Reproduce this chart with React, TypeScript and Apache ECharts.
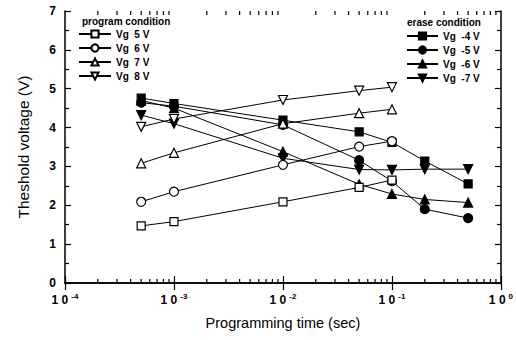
import React, { useEffect, useRef } from "react";
import * as echarts from "echarts";

const programTimes = [5e-4, 1e-3, 1e-2, 5e-2, 1e-1];
const eraseTimes = [5e-4, 1e-3, 1e-2, 5e-2, 1e-1, 2e-1, 5e-1];

const prog5 = [1.47, 1.58, 2.09, 2.46, 2.65];
const prog6 = [2.09, 2.35, 3.04, 3.51, 3.65];
const prog7 = [3.08, 3.35, 4.1, 4.37, 4.47];
const prog8 = [4.02, 4.22, 4.71, 4.95, 5.04];

const erase4 = [4.76, 4.62, 4.19, 3.89, 3.62, 3.14, 2.55];
const erase5 = [4.64, 4.55, 4.07, 3.16, 2.62, 1.9, 1.67];
const erase6 = [4.7, 4.5, 3.38, 2.54, 2.29, 2.15, 2.07];
const erase7 = [4.32, 4.1, 3.21, 2.92, 2.91, 2.93, 2.93];

const minorTickTimes = [
  2e-4, 3e-4, 4e-4, 5e-4, 6e-4, 7e-4, 8e-4, 9e-4,
  2e-3, 3e-3, 4e-3, 5e-3, 6e-3, 7e-3, 8e-3, 9e-3,
  2e-2, 3e-2, 4e-2, 5e-2, 6e-2, 7e-2, 8e-2, 9e-2,
  2e-1, 3e-1, 4e-1, 5e-1, 6e-1, 7e-1, 8e-1, 9e-1,
];

const programNames = ["Vg  5 V", "Vg  6 V", "Vg  7 V", "Vg  8 V"];
const eraseNames = ["Vg  -4 V", "Vg  -5 V", "Vg  -6 V", "Vg  -7 V"];

const FONT = "Liberation Sans, Arial, sans-serif";

function pair(times: number[], vals: number[]) {
  return times.map((t, i) => [t, vals[i]]);
}

function mkSeries(
  name: string,
  times: number[],
  vals: number[],
  symbol: string,
  filled: boolean,
  rotate: number,
  size: number
) {
  return {
    name,
    type: "line",
    data: pair(times, vals),
    symbol,
    symbolSize: size,
    symbolRotate: rotate,
    showAllSymbol: true,
    lineStyle: { color: "#000", width: 1 },
    itemStyle: {
      color: filled ? "#000" : "#fff",
      borderColor: "#000",
      borderWidth: 1.2,
    },
    z: filled ? 3 : 4,
  };
}

export default function App() {
  const ref = useRef<HTMLDivElement>(null);
  useEffect(() => {
    if (!ref.current) return;
    const chart = echarts.init(ref.current, null, { renderer: "svg" });
    const axisLine = { show: true, lineStyle: { color: "#000", width: 1.5 } };
    const option: any = {
      animation: false,
      backgroundColor: "#fff",
      grid: { left: 65, right: 13, top: 11, bottom: 57 },
      xAxis: [
        {
          type: "log",
          logBase: 10,
          min: 1e-4,
          max: 1,
          axisLine,
          axisTick: { inside: true, length: 7, lineStyle: { color: "#000", width: 1.2 } },
          splitLine: { show: false },
          axisLabel: {
            margin: 9,
            formatter: (v: number) => {
              const e = Math.round(Math.log10(v));
              return "{b|1 0}{s|" + (e === 0 ? "0" : String(e)) + "}";
            },
            rich: {
              b: { fontFamily: FONT, fontSize: 12, fontWeight: "bold", color: "#000" },
              s: { fontFamily: FONT, fontSize: 8, fontWeight: "bold", color: "#000", verticalAlign: "top", padding: [0, 0, 8, 3] },
            },
          },
          name: "Programming time (sec)",
          nameLocation: "middle",
          nameGap: 32,
          nameTextStyle: { fontFamily: FONT, fontSize: 14.5, color: "#000" },
        },
        {
          type: "log",
          logBase: 10,
          min: 1e-4,
          max: 1,
          position: "top",
          axisLine,
          axisTick: { inside: true, length: 7, lineStyle: { color: "#000", width: 1.2 } },
          axisLabel: { show: false },
          splitLine: { show: false },
        },
      ],
      yAxis: [
        {
          type: "value",
          min: 0,
          max: 7,
          interval: 1,
          axisLine,
          axisTick: { inside: true, length: 6, lineStyle: { color: "#000", width: 1.2 } },
          minorTick: { show: true, splitNumber: 2, length: 4, lineStyle: { color: "#000", width: 1.2 } },
          splitLine: { show: false },
          axisLabel: { fontFamily: FONT, fontSize: 12, fontWeight: "bold", color: "#000", margin: 9 },
          name: "Theshold voltage (V)",
          nameLocation: "middle",
          nameGap: 34,
          nameTextStyle: { fontFamily: FONT, fontSize: 15.5, color: "#000" },
        },
        {
          type: "value",
          min: 0,
          max: 7,
          interval: 1,
          position: "right",
          axisLine,
          axisTick: { inside: true, length: 6, lineStyle: { color: "#000", width: 1.2 } },
          minorTick: { show: true, splitNumber: 2, length: 4, lineStyle: { color: "#000", width: 1.2 } },
          splitLine: { show: false },
          axisLabel: { show: false },
        },
      ],
      legend: [
        {
          data: programNames,
          orient: "vertical",
          left: 78,
          top: 29,
          itemWidth: 32,
          itemHeight: 9,
          itemGap: 4,
          symbolRotate: "inherit",
          textStyle: { fontFamily: FONT, fontSize: 10, fontWeight: "bold", color: "#000" },
          selectedMode: false,
          padding: 0,
        },
        {
          data: eraseNames,
          orient: "vertical",
          left: 406,
          top: 31,
          itemWidth: 31,
          itemHeight: 9,
          itemGap: 4,
          symbolRotate: "inherit",
          textStyle: { fontFamily: FONT, fontSize: 10, fontWeight: "bold", color: "#000" },
          selectedMode: false,
          padding: 0,
        },
      ],
      graphic: [
        {
          type: "text",
          left: 82,
          top: 16,
          style: { text: "program condition", font: "bold 10px " + FONT, fill: "#000" },
        },
        {
          type: "text",
          left: 407,
          top: 17,
          style: { text: "erase condition", font: "bold 10px " + FONT, fill: "#000" },
        },
      ],
      series: [
        mkSeries(programNames[0], programTimes, prog5, "rect", false, 0, 8),
        mkSeries(programNames[1], programTimes, prog6, "circle", false, 0, 9),
        mkSeries(programNames[2], programTimes, prog7, "triangle", false, 0, 9),
        mkSeries(programNames[3], programTimes, prog8, "triangle", false, 180, 9),
        mkSeries(eraseNames[0], eraseTimes, erase4, "rect", true, 0, 8),
        mkSeries(eraseNames[1], eraseTimes, erase5, "circle", true, 0, 9),
        mkSeries(eraseNames[2], eraseTimes, erase6, "triangle", true, 0, 9),
        mkSeries(eraseNames[3], eraseTimes, erase7, "triangle", true, 180, 9),
        {
          type: "custom",
          name: "minorTicks",
          data: minorTickTimes.map((t) => [t, 0]),
          silent: true,
          renderItem: (params: any, api: any) => {
            const t = api.value(0);
            const b = api.coord([t, 0]);
            const top = api.coord([t, 7]);
            const st = { stroke: "#000", lineWidth: 1.2 };
            return {
              type: "group",
              children: [
                { type: "line", shape: { x1: b[0], y1: b[1], x2: b[0], y2: b[1] - 4 }, style: st },
                { type: "line", shape: { x1: top[0], y1: top[1], x2: top[0], y2: top[1] + 4 }, style: st },
              ],
            };
          },
          z: 1,
        },
      ],
    };
    chart.setOption(option);
    return () => chart.dispose();
  }, []);
  return (
    <div
      ref={ref}
      style={{ position: "absolute", left: 0, top: 0, width: 516, height: 340 }}
    />
  );
}
